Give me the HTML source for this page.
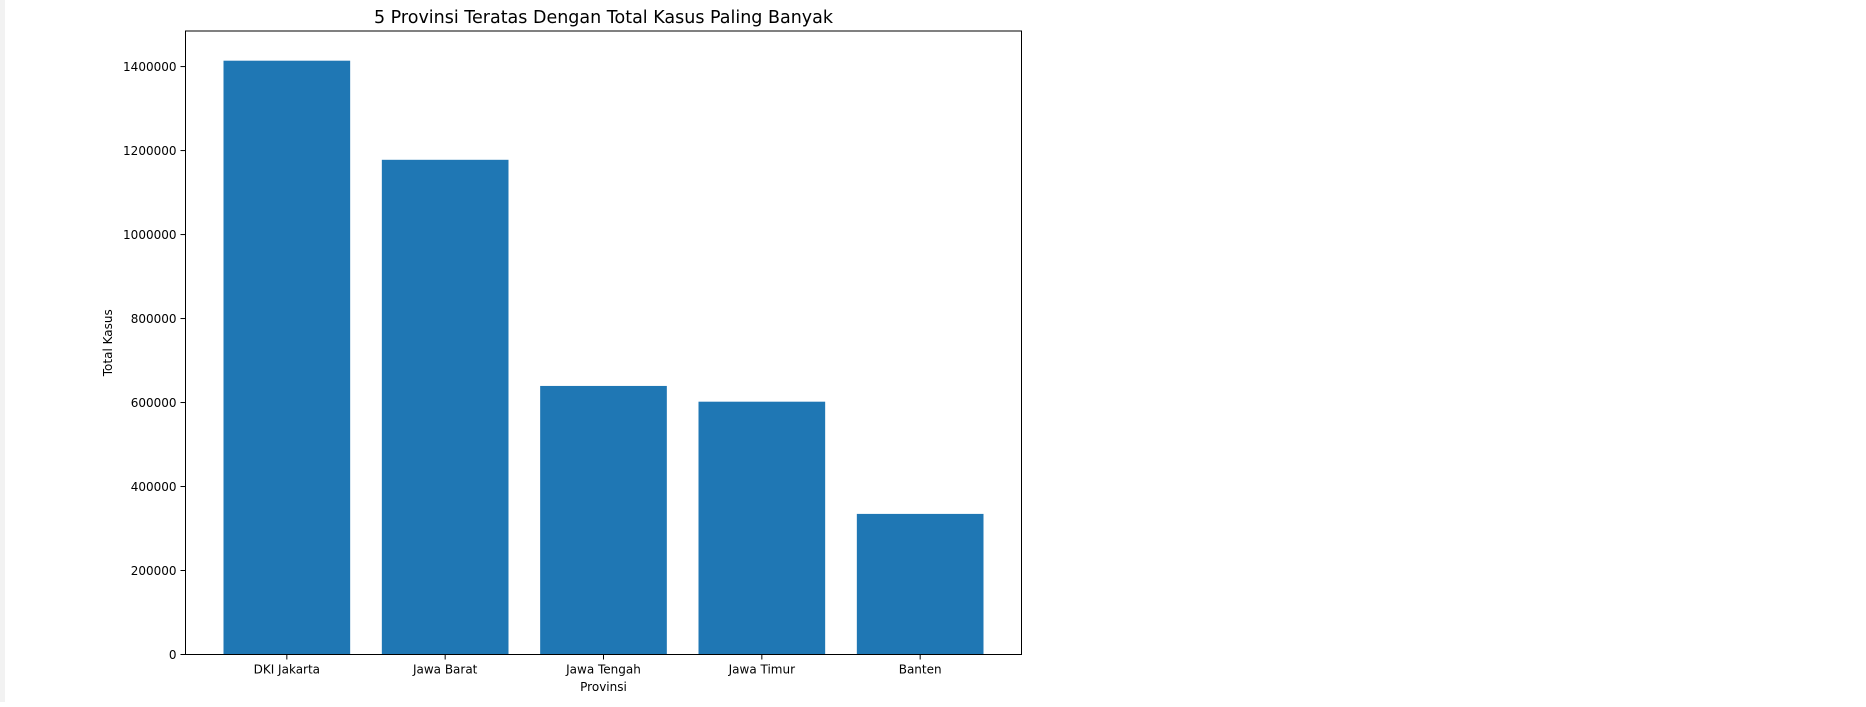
<!DOCTYPE html>
<html><head><meta charset="utf-8"><style>
body{margin:0;background:#fff;width:1866px;height:702px;overflow:hidden}
svg text{font-family:"DejaVu Sans","Liberation Sans",sans-serif;fill:#000}
</style></head><body>
<svg width="1866" height="702">
<rect x="0" y="0" width="5" height="702" fill="#f2f2f2"/>
<g id="plot"></g>
</svg>
<script>
const categories=["DKI Jakarta","Jawa Barat","Jawa Tengah","Jawa Timur","Banten"];
const values=[1414000,1178000,639500,602000,334800];
const yTicks=[0,200000,400000,600000,800000,1000000,1200000,1400000];
const L=185.5,R=1021.5,T=31,B=654.5;
const ymax=Math.max(...values)*1.05;
const y=v=>B-(v/ymax)*(B-T);
const xmin=-0.64,xmax=categories.length-1+0.64;
const x=i=>L+(i-xmin)/(xmax-xmin)*(R-L);
const g=document.getElementById('plot');
const NS='http://www.w3.org/2000/svg';
function mk(t,a){const e=document.createElementNS(NS,t);for(const k in a)e.setAttribute(k,a[k]);g.appendChild(e);return e;}
values.forEach((v,i)=>{
 const bw=(x(0.4)-x(-0.4));
 const r=mk('rect',{x:x(i)-bw/2,y:y(v),width:bw,height:B-y(v),fill:'#1f77b4'});
 
 
 const tk=mk('line',{x1:x(i),x2:x(i),y1:B,y2:B+5,stroke:'#000','stroke-width':1});
 
 
 const t=mk('text',{x:x(i),y:B+19,'text-anchor':'middle','font-size':12});
 t.textContent=categories[i];
 
 
});
yTicks.forEach(v=>{
 const tk=mk('line',{x1:L-5,x2:L,y1:y(v),y2:y(v),stroke:'#000','stroke-width':1});
 
 
 const t=mk('text',{x:L-9,y:y(v)+4.5,'text-anchor':'end','font-size':12});
 t.textContent=String(v);
 
 
});
const fr=mk('rect',{x:L,y:T,width:R-L,height:B-T,fill:'none',stroke:'#000','stroke-width':1});


const tt=mk('text',{x:(L+R)/2,y:23,'text-anchor':'middle','font-size':17.5});
tt.textContent='5 Provinsi Teratas Dengan Total Kasus Paling Banyak';


const xl=mk('text',{x:(L+R)/2,y:691,'text-anchor':'middle','font-size':12});
xl.textContent='Provinsi';


const yl=mk('text',{x:0,y:0,'text-anchor':'middle','font-size':12,transform:`translate(112,${(T+B)/2}) rotate(-90)`});
yl.textContent='Total Kasus';


</script>
</body></html>
